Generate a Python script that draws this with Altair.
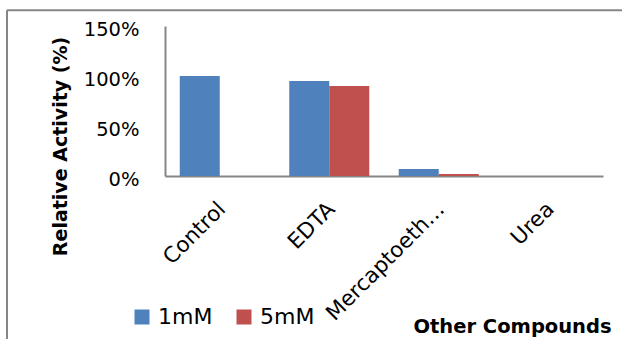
import altair as alt
import pandas as pd

categories = ["Control", "EDTA", "Mercaptoeth…", "Urea"]
series = ["1mM", "5mM"]
values_1mM = [1.00, 0.95, 0.07, 0.0]
values_5mM = [0.0, 0.90, 0.02, 0.0]
y_ticks = [0, 0.5, 1.0, 1.5]
colors = ["#4F81BD", "#C0504D"]

rows = []
for c, a, b in zip(categories, values_1mM, values_5mM):
    rows.append({"Compound": c, "Concentration": series[0], "Activity": a})
    rows.append({"Compound": c, "Concentration": series[1], "Activity": b})
df = pd.DataFrame(rows)

FONT = "DejaVu Sans"
AX = "#868686"

bars = alt.Chart(df).mark_bar(strokeWidth=0).encode(
    x=alt.X(
        "Compound:N",
        sort=categories,
        scale=alt.Scale(paddingInner=0.2694, paddingOuter=0.1347),
        axis=alt.Axis(
            title="Other Compounds",
            titleFont=FONT, titleFontSize=19.5, titleFontWeight="bold", titleColor="black",
            titleX=347, titleY=156, titleAlign="center", titleBaseline="alphabetic",
            labelFont=FONT, labelFontSize=21.5, labelColor="black",
            labelAngle=-45, labelAlign="right", labelBaseline="top",
            labelPadding=22, labelOffset=-5, labelLimit=0,
            ticks=False, tickSize=0, grid=False, domainColor=AX, domainWidth=2,
        ),
    ),
    xOffset=alt.XOffset("Concentration:N", sort=series,
                        scale=alt.Scale(paddingInner=0, paddingOuter=0)),
    y=alt.Y(
        "Activity:Q",
        scale=alt.Scale(domain=[0, 1.5]),
        axis=alt.Axis(
            title="Relative Activity (%)",
            titleFont=FONT, titleFontSize=19, titleFontWeight="bold", titleColor="black",
            titleX=-105, titleY=120, titleAlign="center", titleBaseline="middle", titleAngle=270,
            values=y_ticks, format=".0%",
            labelFont=FONT, labelFontSize=19.5, labelColor="black",
            labelAlign="right", labelBaseline="alphabetic", labelOffset=9.7,
            labelPadding=26, ticks=False, tickSize=0, grid=False,
            domainColor=AX, domainWidth=2,
        ),
    ),
    color=alt.Color(
        "Concentration:N", sort=series,
        scale=alt.Scale(domain=series, range=colors),
        legend=alt.Legend(
            title=None, orient="none", direction="horizontal",
            legendX=-34, legendY=280,
            symbolType="square", symbolSize=225, symbolStrokeWidth=0,
            labelFont=FONT, labelFontSize=22, labelColor="black",
            labelOffset=5, columnPadding=20,
        ),
    ),
)

border_df = pd.DataFrame({"k": [0]})
border_top = alt.Chart(border_df).mark_rule(color=AX, strokeWidth=2).encode(
    x=alt.value(-158), x2=alt.value(470), y=alt.value(-15.7)
)
border_left = alt.Chart(border_df).mark_rule(color=AX, strokeWidth=2).encode(
    x=alt.value(-158), y=alt.value(-15.7), y2=alt.value(330)
)

chart = alt.layer(border_top, border_left, bars).properties(
    width=438, height=150,
    background="white",
    autosize=alt.AutoSizeParams(type="none"),
    padding={"left": 165, "top": 26, "right": 19, "bottom": 163},
).configure_view(strokeWidth=0, stroke=None).configure_axis(grid=False)

chart.save("out.html", embed_options={"renderer": "svg", "actions": False})
